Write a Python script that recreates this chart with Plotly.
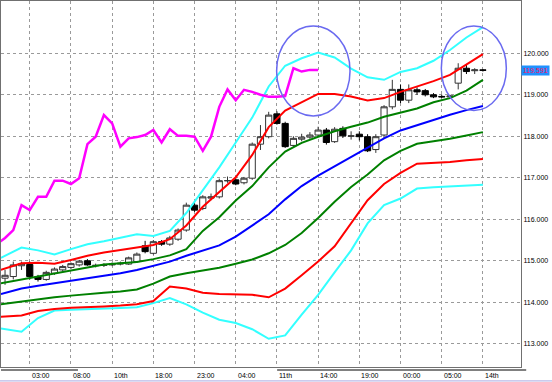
import plotly.graph_objects as go

# ---- data ----
bars = list(range(59))
opens = [114.58, 114.62, 114.88, 114.91, 114.62, 114.55, 114.70, 114.78, 114.84, 114.90,
         115.00, 114.88, 114.89, 114.90, 114.92, 114.92, 114.98, 115.36, 115.18, 115.46,
         115.40, 115.52, 115.74, 116.34, 116.26, 116.51, 116.54, 116.93, 116.95, 116.88,
         116.99, 117.81, 117.99, 118.54, 118.31, 117.78, 117.93, 117.98, 118.03, 118.15,
         117.87, 118.19, 118.00, 118.05, 117.99, 117.68, 118.03, 118.71, 119.13, 118.87,
         119.12, 119.10, 119.00, 118.96, 118.95, 119.28, 119.64, 119.58, 119.60]
highs = [114.78, 114.98, 114.98, 114.98, 114.66, 114.76, 114.84, 114.90, 114.96, 115.02,
         115.04, 114.93, 114.94, 114.96, 114.98, 115.10, 115.20, 115.48, 115.50, 115.50,
         115.60, 115.78, 116.40, 116.40, 116.58, 116.62, 116.98, 117.03, 116.99, 117.02,
         117.85, 118.27, 118.59, 118.60, 118.35, 118.00, 118.06, 118.10, 118.23, 118.20,
         118.22, 118.24, 118.12, 118.12, 118.05, 118.05, 118.75, 119.36, 119.25, 119.25,
         119.18, 119.14, 119.04, 119.00, 119.00, 119.76, 119.72, 119.64, 119.62]
lows = [114.42, 114.55, 114.78, 114.55, 114.50, 114.52, 114.66, 114.74, 114.80, 114.86,
        114.88, 114.84, 114.85, 114.87, 114.89, 114.90, 114.95, 115.18, 115.15, 115.36,
        115.36, 115.48, 115.70, 116.18, 116.22, 116.46, 116.50, 116.88, 116.82, 116.84,
        116.95, 117.67, 117.95, 118.28, 117.72, 117.74, 117.88, 117.94, 118.00, 117.80,
        117.84, 117.96, 117.92, 117.90, 117.62, 117.60, 117.95, 118.65, 118.80, 118.80,
        119.00, 118.96, 118.92, 118.92, 118.93, 119.13, 119.50, 119.50, 119.56]
closes = [114.65, 114.90, 114.93, 114.62, 114.55, 114.72, 114.80, 114.86, 114.93, 114.99,
          114.90, 114.89, 114.90, 114.92, 114.94, 115.07, 115.16, 115.22, 115.46, 115.40,
          115.55, 115.74, 116.34, 116.22, 116.54, 116.54, 116.93, 116.93, 116.85, 116.99,
          117.81, 117.99, 118.51, 118.31, 117.75, 117.95, 117.98, 118.03, 118.15, 117.85,
          118.17, 118.01, 118.01, 117.99, 117.65, 117.99, 118.71, 119.13, 118.87, 119.12,
          119.07, 119.00, 118.95, 118.95, 118.97, 119.64, 119.56, 119.60, 119.591]

band_x = [-0.5] + list(range(2, 59, 2))
mid_band = [114.20, 114.33, 114.40, 114.46, 114.52, 114.57, 114.63, 114.70, 114.78, 114.88,
            114.98, 115.12, 115.24, 115.37, 115.58, 115.85, 116.12, 116.48, 116.80, 117.05,
            117.28, 117.50, 117.72, 117.95, 118.14, 118.27, 118.40, 118.52, 118.63, 118.73]
up1_band = [114.46, 114.55, 114.62, 114.69, 114.78, 114.85, 114.91, 114.94, 114.97, 115.04,
            115.13, 115.28, 115.72, 116.05, 116.45, 116.80, 117.25, 117.63, 117.84, 117.99,
            118.12, 118.23, 118.33, 118.47, 118.57, 118.67, 118.82, 118.92, 119.10, 119.36]
up2_band = [114.78, 114.94, 114.95, 114.93, 115.02, 115.12, 115.20, 115.26, 115.33, 115.38,
            115.52, 115.85, 116.30, 116.65, 117.01, 117.55, 118.22, 118.62, 118.82, 119.02,
            119.02, 118.96, 118.86, 118.92, 119.07, 119.20, 119.33, 119.48, 119.74, 119.98]
up3_band = [115.07, 115.32, 115.25, 115.15, 115.28, 115.40, 115.47, 115.55, 115.64, 115.60,
            115.72, 116.15, 116.70, 117.25, 117.85, 118.45, 119.20, 119.70, 119.88, 120.02,
            119.90, 119.63, 119.42, 119.36, 119.55, 119.64, 119.82, 120.08, 120.38, 120.63]
dn1_band = [113.95, 114.02, 114.08, 114.12, 114.16, 114.20, 114.23, 114.26, 114.31, 114.45,
            114.62, 114.70, 114.76, 114.83, 114.93, 115.03, 115.18, 115.38, 115.67, 116.03,
            116.42, 116.78, 117.08, 117.42, 117.65, 117.82, 117.88, 117.94, 118.02, 118.10]
dn2_band = [113.65, 113.68, 113.79, 113.84, 113.87, 113.88, 113.90, 113.92, 113.95, 114.03,
            114.38, 114.33, 114.23, 114.20, 114.19, 114.18, 114.12, 114.33, 114.65, 114.98,
            115.35, 115.90, 116.46, 116.85, 117.12, 117.34, 117.36, 117.38, 117.42, 117.45]
dn3_band = [113.37, 113.29, 113.62, 113.80, 113.82, 113.83, 113.84, 113.86, 113.88, 113.98,
            114.10, 113.95, 113.75, 113.58, 113.50, 113.35, 113.12, 113.20, 113.70, 114.18,
            114.72, 115.25, 115.90, 116.34, 116.50, 116.74, 116.77, 116.79, 116.81, 116.83]

lag_x = list(range(-1, 39))
lag_span = [115.40, 115.55, 115.74, 116.34, 116.22, 116.54, 116.54, 116.93, 116.93, 116.85,
            116.99, 117.81, 117.99, 118.51, 118.31, 117.75, 117.95, 117.98, 118.03, 118.15,
            117.85, 118.17, 118.01, 118.01, 117.99, 117.65, 117.99, 118.71, 119.13, 118.87,
            119.12, 119.07, 119.00, 118.95, 118.95, 118.97, 119.64, 119.56, 119.60, 119.60]

tick_bars = [3, 8, 13, 18, 23, 28, 33, 38, 43, 48, 53, 58]
tick_text = ["03:00", "08:00", "10th", "18:00", "23:00", "04:00", "11th", "14:00",
             "19:00", "00:00", "05:00", "14th"]
price_ticks = [113, 114, 115, 116, 117, 118, 119, 120]
last_price = 119.591

fig = go.Figure()

bands = [(up3_band, "#33FFFF"), (dn3_band, "#33FFFF"),
         (up2_band, "#FF0000"), (dn2_band, "#FF0000"),
         (up1_band, "#008000"), (dn1_band, "#008000"),
         (mid_band, "#0000FF")]
for vals, col in bands:
    fig.add_trace(go.Scatter(x=band_x, y=vals, mode="lines",
                             line=dict(color=col, width=2), hoverinfo="skip"))

fig.add_trace(go.Scatter(x=lag_x, y=lag_span, mode="lines",
                         line=dict(color="#FF00FF", width=2.5), hoverinfo="skip"))

fig.add_trace(go.Candlestick(
    x=bars, open=opens, high=highs, low=lows, close=closes,
    increasing=dict(line=dict(color="#333333", width=1), fillcolor="#FFFFFF"),
    decreasing=dict(line=dict(color="#000000", width=1), fillcolor="#000000"),
    whiskerwidth=0))

# circles
circ = dict(type="circle", xref="x", yref="y", line=dict(color="#6A6AF0", width=1.5))
fig.add_shape(x0=32.96, x1=41.87, y0=118.49, y1=120.66, **circ)
fig.add_shape(x0=52.95, x1=60.84, y0=118.62, y1=120.66, **circ)

# x labels (left-aligned at gridline, MT4 style)
for b, t in zip(tick_bars, tick_text):
    fig.add_annotation(x=b, y=0, xref="x", yref="paper", text=t, showarrow=False,
                       xanchor="left", yanchor="top", yshift=-3, xshift=0,
                       font=dict(family="Liberation Sans", size=7, color="#000000"))

# current price label
fig.add_annotation(x=1, y=last_price, xref="paper", yref="y", text=f"{last_price:.3f}",
                   showarrow=False, xanchor="left", yanchor="middle", xshift=0,
                   bgcolor="#1E90FF", borderpad=1,
                   font=dict(family="Liberation Sans", size=7, color="#FF1060"))

# bottom separator bars and window edge
fig.add_shape(type="rect", xref="paper", yref="paper", x0=0, x1=0.148, y0=-0.011, y1=-0.0055,
              fillcolor="#808080", line=dict(width=0))
fig.add_shape(type="rect", xref="paper", yref="paper", x0=0.531, x1=1.01, y0=-0.011, y1=-0.0055,
              fillcolor="#808080", line=dict(width=0))
fig.add_shape(type="line", xref="paper", yref="paper", x0=-0.01, x1=1.07, y0=-0.038, y1=-0.038,
              line=dict(color="#A8A8E0", width=1))

fig.update_layout(
    width=552, height=382, autosize=False,
    margin=dict(l=1, r=31, t=1, b=15),
    paper_bgcolor="#FFFFFF", plot_bgcolor="#FFFFFF",
    showlegend=False,
    boxgap=0.25, boxgroupgap=0,
    font=dict(family="Liberation Sans", size=7, color="#000000"),
    xaxis=dict(range=[-0.49, 62.62], tickvals=tick_bars, showticklabels=False,
               showgrid=True, gridcolor="#9A9A9A", griddash="dot", gridwidth=1,
               zeroline=False, showline=True, linecolor="#707070", linewidth=1, mirror=True,
               rangeslider=dict(visible=False), ticks=""),
    yaxis=dict(range=[112.44, 121.26], side="right", tickvals=price_ticks,
               ticktext=[f"{p:.3f}" for p in price_ticks],
               showgrid=True, gridcolor="#9A9A9A", griddash="dot", gridwidth=1,
               zeroline=False, showline=True, linecolor="#707070", linewidth=1, mirror=True,
               ticks="", ticklabelstandoff=0,
               tickfont=dict(family="Liberation Sans", size=7, color="#000000")),
)

fig.write_html("out.html", config={"displayModeBar": False},
               post_script="document.body.style.margin='0';document.body.style.overflow='hidden';")
